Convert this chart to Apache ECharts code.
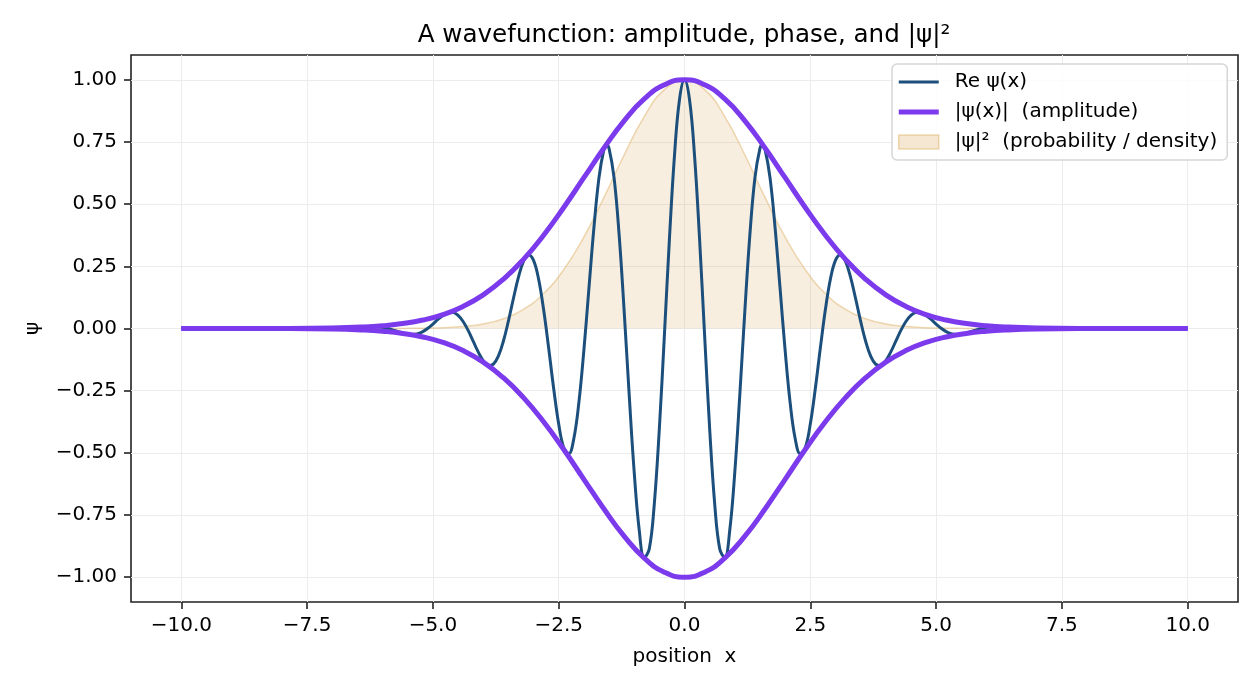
<!DOCTYPE html>
<html>
<head>
<meta charset="utf-8">
<script src="https://cdn.jsdelivr.net/npm/echarts@6/dist/echarts.min.js"></script>
<style>
html, body { margin: 0; padding: 0; background: #fff; }
#main { width: 1260px; height: 690px; }
</style>
</head>
<body>
<div id="main"></div>
<script>
// Re psi(x), every 0.1 in the oscillating part
var reX = [-10, -9, -8, -7,
    -6.5, -6.4, -6.3, -6.2, -6.1, -6.0, -5.9, -5.8, -5.7, -5.6,
    -5.5, -5.4, -5.3, -5.2, -5.1, -5.0, -4.9, -4.8, -4.7, -4.6,
    -4.5, -4.4, -4.3, -4.2, -4.1, -4.0, -3.9, -3.8, -3.7, -3.6,
    -3.5, -3.4, -3.3, -3.2, -3.1, -3.0, -2.9, -2.8, -2.7, -2.6,
    -2.5, -2.4, -2.3, -2.2, -2.1, -2.0, -1.9, -1.8, -1.7, -1.6, -1.55,
    -1.5, -1.4, -1.3, -1.2, -1.1, -1.0, -0.9, -0.8, -0.7, -0.6,
    -0.5, -0.4, -0.3, -0.2, -0.1, 0, 0.1, 0.2, 0.3, 0.4,
    0.5, 0.6, 0.7, 0.8, 0.9, 1.0, 1.1, 1.2, 1.3, 1.4,
    1.5, 1.55, 1.6, 1.7, 1.8, 1.9, 2.0, 2.1, 2.2, 2.3, 2.4,
    2.5, 2.6, 2.7, 2.8, 2.9, 3.0, 3.1, 3.2, 3.3, 3.4,
    3.5, 3.6, 3.7, 3.8, 3.9, 4.0, 4.1, 4.2, 4.3, 4.4,
    4.5, 4.6, 4.7, 4.8, 4.9, 5.0, 5.1, 5.2, 5.3, 5.4,
    5.5, 5.6, 5.7, 5.8, 5.9, 6.0, 6.1, 6.2, 6.3, 6.4,
    6.5, 7, 8, 9, 10];
var reY = [0, 0, 0, -0.0021,
    0.0033, 0.0054, 0.0070, 0.0078, 0.0071, 0.0047, 0.0005, -0.0053, -0.0119, -0.0182,
    -0.0228, -0.0241, -0.0210, -0.0126, 0.0008, 0.0179, 0.0364, 0.0527, 0.0632, 0.0639,
    0.0525, 0.0281, -0.0078, -0.0508, -0.0942, -0.1296, -0.1485, -0.1437, -0.1113, -0.0514,
    0.0296, 0.1207, 0.2066, 0.2704, 0.2967, 0.2740, 0.1991, 0.0762, -0.0781, -0.2411,
    -0.3842, -0.4793, -0.5032, -0.4432, -0.2992, -0.0882, 0.1601, 0.4058, 0.6058, 0.7212, 0.7380,
    0.7248, 0.6071, 0.3793, 0.0731, -0.2642, -0.5768, -0.8104, -0.9216, -0.8863, -0.7049,
    -0.4033, -0.0286, 0.3583, 0.6932, 0.9199, 1.0, 0.9199, 0.6932, 0.3583, -0.0286,
    -0.4033, -0.7049, -0.8863, -0.9216, -0.8104, -0.5768, -0.2642, 0.0731, 0.3793, 0.6071,
    0.7248, 0.7380, 0.7212, 0.6058, 0.4058, 0.1601, -0.0882, -0.2992, -0.4432, -0.5032, -0.4793,
    -0.3842, -0.2411, -0.0781, 0.0762, 0.1991, 0.2740, 0.2967, 0.2704, 0.2066, 0.1207,
    0.0296, -0.0514, -0.1113, -0.1437, -0.1485, -0.1296, -0.0942, -0.0508, -0.0078, 0.0281,
    0.0525, 0.0639, 0.0632, 0.0527, 0.0364, 0.0179, 0.0008, -0.0126, -0.0210, -0.0241,
    -0.0228, -0.0182, -0.0119, -0.0053, 0.0005, 0.0047, 0.0071, 0.0078, 0.0070, 0.0054,
    0.0033, -0.0021, 0, 0, 0];

// envelope |psi| and density |psi|^2
var envX = [-10, -9, -8, -7, -6.4, -6.0, -5.6, -5.2, -4.8, -4.4, -4.0, -3.6, -3.2, -2.8, -2.4, -2.0, -1.6, -1.2, -0.8, -0.4,
    0, 0.4, 0.8, 1.2, 1.6, 2.0, 2.4, 2.8, 3.2, 3.6, 4.0, 4.4, 4.8, 5.2, 5.6, 6.0, 6.4, 7, 8, 9, 10];
var ampY = [0, 0, 0.0003, 0.0022, 0.0060, 0.0111, 0.0198, 0.0340, 0.0561, 0.0889, 0.1353, 0.1979, 0.2780, 0.3753, 0.4868, 0.6065, 0.7261, 0.8353, 0.9231, 0.9802,
    1.0, 0.9802, 0.9231, 0.8353, 0.7261, 0.6065, 0.4868, 0.3753, 0.2780, 0.1979, 0.1353, 0.0889, 0.0561, 0.0340, 0.0198, 0.0111, 0.0060, 0.0022, 0.0003, 0, 0];
var ampLowY = [0, 0, -0.0003, -0.0022, -0.0060, -0.0111, -0.0198, -0.0340, -0.0561, -0.0889, -0.1353, -0.1979, -0.2780, -0.3753, -0.4868, -0.6065, -0.7261, -0.8353, -0.9231, -0.9802,
    -1.0, -0.9802, -0.9231, -0.8353, -0.7261, -0.6065, -0.4868, -0.3753, -0.2780, -0.1979, -0.1353, -0.0889, -0.0561, -0.0340, -0.0198, -0.0111, -0.0060, -0.0022, -0.0003, 0, 0];
var densY = [0, 0, 0, 0, 0, 0.0001, 0.0004, 0.0012, 0.0032, 0.0079, 0.0183, 0.0392, 0.0773, 0.1409, 0.2369, 0.3679, 0.5273, 0.6977, 0.8521, 0.9608,
    1.0, 0.9608, 0.8521, 0.6977, 0.5273, 0.3679, 0.2369, 0.1409, 0.0773, 0.0392, 0.0183, 0.0079, 0.0032, 0.0012, 0.0004, 0.0001, 0, 0, 0, 0, 0];

var xTicks = [-10, -7.5, -5, -2.5, 0, 2.5, 5, 7.5, 10];
var yTicks = [-1, -0.75, -0.5, -0.25, 0, 0.25, 0.5, 0.75, 1];

var reName = 'Re ψ(x)';
var ampName = '|ψ(x)|  (amplitude)';
var densName = '|ψ|²  (probability / density)';

function pairs(xs, ys) {
    var out = [];
    for (var i = 0; i < xs.length; i++) {
        out.push([xs[i], ys[i]]);
    }
    return out;
}

function fmt(v, digits) {
    return v.toFixed(digits).replace('-', '\u2212');
}

var font = 'DejaVu Sans';
var chart = echarts.init(document.getElementById('main'), null, {renderer: 'canvas'});

var option = {
    animation: false,
    backgroundColor: '#fff',
    textStyle: {fontFamily: font},
    title: {
        text: 'A wavefunction: amplitude, phase, and |ψ|²',
        left: 684,
        top: 23,
        textAlign: 'center',
        padding: 0,
        textStyle: {fontFamily: font, fontSize: 24.6, fontWeight: 'normal', color: '#000'}
    },
    grid: {
        left: 131, right: 22, top: 55, bottom: 88,
        show: true,
        borderColor: '#222',
        borderWidth: 1.6,
        backgroundColor: 'transparent'
    },
    legend: {
        orient: 'vertical',
        left: 892,
        top: 64,
        padding: [8, 10, 8, 6],
        itemGap: 10,
        itemWidth: 40,
        itemHeight: 14,
        borderColor: '#d6d6d6',
        borderWidth: 1.5,
        borderRadius: 5,
        backgroundColor: 'rgba(255,255,255,0.85)',
        textStyle: {fontFamily: font, fontSize: 20, color: '#000', padding: [0, 0, 0, 11]},
        data: [
            {name: reName, icon: 'path://M0,0H40V3H0Z'},
            {name: ampName, icon: 'path://M0,0H40V5H0Z'},
            {name: densName, icon: 'rect', itemStyle: {color: 'rgba(220,170,90,0.28)', borderColor: 'rgba(220,170,90,0.45)', borderWidth: 1.5}}
        ]
    },
    xAxis: {
        type: 'value',
        min: -11,
        max: 11,
        name: 'position  x',
        nameLocation: 'middle',
        nameGap: 45,
        nameTextStyle: {fontFamily: font, fontSize: 20, color: '#000'},
        axisLine: {show: false, onZero: false},
        axisTick: {show: true, customValues: xTicks, length: 7, lineStyle: {color: '#222', width: 1.6}},
        axisLabel: {
            customValues: xTicks,
            margin: 14,
            fontFamily: font, fontSize: 20, color: '#000',
            formatter: function (v) { return fmt(v, 1); }
        },
        splitLine: {show: true, lineStyle: {color: '#ececec', width: 1}}
    },
    yAxis: {
        type: 'value',
        min: -1.1,
        max: 1.1,
        name: 'ψ',
        nameLocation: 'middle',
        nameGap: 88,
        nameRotate: 90,
        nameTextStyle: {fontFamily: font, fontSize: 20, color: '#000'},
        axisLine: {show: false, onZero: false},
        axisTick: {show: true, customValues: yTicks, length: 7, lineStyle: {color: '#222', width: 1.6}},
        axisLabel: {
            customValues: yTicks,
            margin: 14,
            fontFamily: font, fontSize: 20, color: '#000',
            formatter: function (v) { return fmt(v, 2); }
        },
        splitLine: {show: true, lineStyle: {color: '#ececec', width: 1}}
    },
    series: [
        {
            name: densName,
            type: 'line',
            data: pairs(envX, densY),
            smooth: 0.5,
            symbol: 'none',
            itemStyle: {color: 'rgba(220,170,90,0.28)'},
            lineStyle: {color: 'rgba(220,170,90,0.45)', width: 1.5},
            areaStyle: {color: 'rgba(220,170,90,0.28)', origin: 0},
            z: 1
        },
        {
            name: reName,
            type: 'line',
            data: pairs(reX, reY),
            smooth: 0.4,
            symbol: 'none',
            itemStyle: {color: '#1c4f7c'},
            lineStyle: {color: '#1c4f7c', width: 3},
            z: 2
        },
        {
            name: ampName,
            type: 'line',
            data: pairs(envX, ampY),
            smooth: 0.5,
            symbol: 'none',
            itemStyle: {color: '#7c3aed'},
            lineStyle: {color: '#7c3aed', width: 5},
            z: 3
        },
        {
            name: ampName,
            type: 'line',
            data: pairs(envX, ampLowY),
            smooth: 0.5,
            symbol: 'none',
            itemStyle: {color: '#7c3aed'},
            lineStyle: {color: '#7c3aed', width: 5},
            z: 3
        }
    ]
};
chart.setOption(option);
</script>
</body>
</html>
